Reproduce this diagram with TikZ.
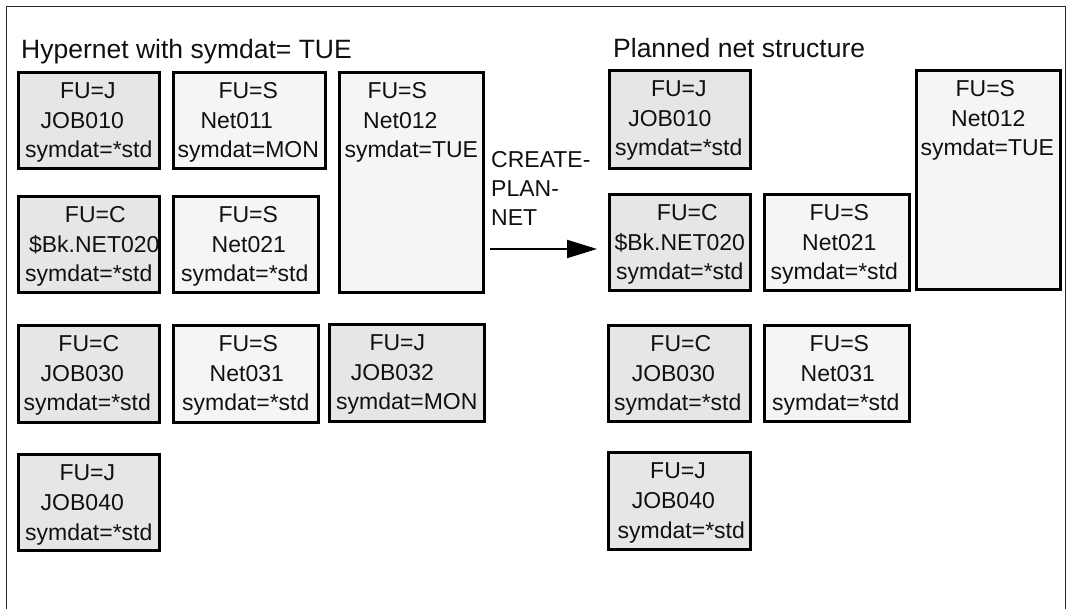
\documentclass[tikz,border=0pt]{standalone}
\usepackage{fontspec}
\setmainfont{Liberation Sans}
\usetikzlibrary{calc,arrows.meta}
\definecolor{jobfill}{HTML}{E6E6E6}
\definecolor{netfill}{HTML}{F5F5F5}
\definecolor{ink}{HTML}{111111}
\tikzset{
  jobbox/.style={draw=black, fill=jobfill, line width=2.6pt, inner sep=0pt},
  netbox/.style={draw=black, fill=netfill, line width=2.6pt, inner sep=0pt},
  txt/.style={anchor=base, inner sep=0pt, font=\fontsize{23}{27}\selectfont, text=ink},
  heading/.style={anchor=base west, inner sep=0pt, font=\fontsize{26.5}{30}\selectfont, text=ink},
  cmd/.style={anchor=base west, inner sep=0pt, font=\fontsize{23}{27}\selectfont, text=ink},
  flow/.style={line width=2pt, draw=black, -{Triangle[length=30pt,width=18pt]}},
  frameline/.style={line width=1pt, draw=black!85},
}
% a net element box: name, style, left, top, width, height
\newcommand\elembox[6]{%
  \node[#2, anchor=north west, minimum width=#5pt, minimum height=#6pt] (#1) at (#3,#4) {};}
% the three text lines of an element, each with its own horizontal offset
\newcommand\elemtext[7]{%
  \node[txt] (#1-a) at ($(#1.north)+(#3,28)$) {#2};
  \node[txt] (#1-b) at ($(#1.north)+(#5,57.5)$) {#4};
  \node[txt] (#1-c) at ($(#1.north)+(#7,87)$) {#6};}
\begin{document}
\begin{tikzpicture}[x=1pt,y=-1pt]
\useasboundingbox (0,0) rectangle (1069,609);
\fill[white] (0,0) rectangle (1069,609);
% outer frame (open at the bottom)
\draw[frameline] (6,609) -- (6,7) -- (1065,7) -- (1065,609);

% headings
\node[heading] (hyper) at (21,59) {Hypernet with symdat= TUE};
\node[heading] (planned) at (613,58) {Planned net structure};

% hypernet
\elembox{L010}{jobbox}{17}{71}{141}{96}
\elemtext{L010}{FU=J}{-1}{JOB010}{-6.5}{symdat=*std}{0}
\elembox{L011}{netbox}{172}{71}{152}{96}
\elemtext{L011}{FU=S}{-1}{Net011}{-12.5}{symdat=MON}{-1}
\elembox{L012}{netbox}{338}{71}{144}{220}
\elemtext{L012}{FU=S}{-14}{Net012}{-11}{symdat=TUE}{0}
\elembox{L020}{jobbox}{17}{195}{141}{96}
\elemtext{L020}{FU=C}{6.5}{\$Bk.NET020}{5.5}{symdat=*std}{0}
\elembox{L021}{netbox}{172}{195}{145}{96}
\elemtext{L021}{FU=S}{2.5}{Net021}{3}{symdat=*std}{-1}
\elembox{L030}{jobbox}{17}{324}{141}{97}
\elemtext{L030}{FU=C}{0}{JOB030}{-6.5}{symdat=*std}{-1.5}
\elembox{L031}{netbox}{172}{324}{145}{97}
\elemtext{L031}{FU=S}{2.5}{Net031}{1}{symdat=*std}{0}
\elembox{L032}{jobbox}{328}{323}{155}{97}
\elemtext{L032}{FU=J}{-9.5}{JOB032}{-14.5}{symdat=MON}{0}
\elembox{L040}{jobbox}{17}{453}{141}{96}
\elemtext{L040}{FU=J}{-1.5}{JOB040}{-6.5}{symdat=*std}{0}

% planned net
\elembox{R010}{jobbox}{608}{69}{141}{98}
\elemtext{R010}{FU=J}{-1}{JOB010}{-10}{symdat=*std}{-1}
\elembox{R020}{jobbox}{608}{193}{141}{96}
\elemtext{R020}{FU=C}{7.5}{\$Bk.NET020}{0}{symdat=*std}{0}
\elembox{R021}{netbox}{763}{193}{145}{96}
\elemtext{R021}{FU=S}{2.5}{Net021}{2.5}{symdat=*std}{-2.5}
\elembox{R012}{netbox}{915}{69}{144}{219}
\elemtext{R012}{FU=S}{-3}{Net012}{0}{symdat=TUE}{-1}
\elembox{R030}{jobbox}{607}{324}{142}{96}
\elemtext{R030}{FU=C}{1.5}{JOB030}{-6}{symdat=*std}{-1.5}
\elembox{R031}{netbox}{763}{324}{145}{96}
\elemtext{R031}{FU=S}{2.5}{Net031}{1}{symdat=*std}{-1}
\elembox{R040}{jobbox}{607}{451}{142}{97}
\elemtext{R040}{FU=J}{-1.3}{JOB040}{-6}{symdat=*std}{2}

% the transformation
\node[cmd] (cp1) at (491,168) {CREATE-};
\node[cmd] (cp2) at (491,197) {PLAN-};
\node[cmd] (cp3) at (491,226) {NET};
\coordinate (cpStart) at (490,249);
\draw[flow] (cpStart) -- ($(cpStart -| R020.west)+(-11,0)$);
\end{tikzpicture}
\end{document}
